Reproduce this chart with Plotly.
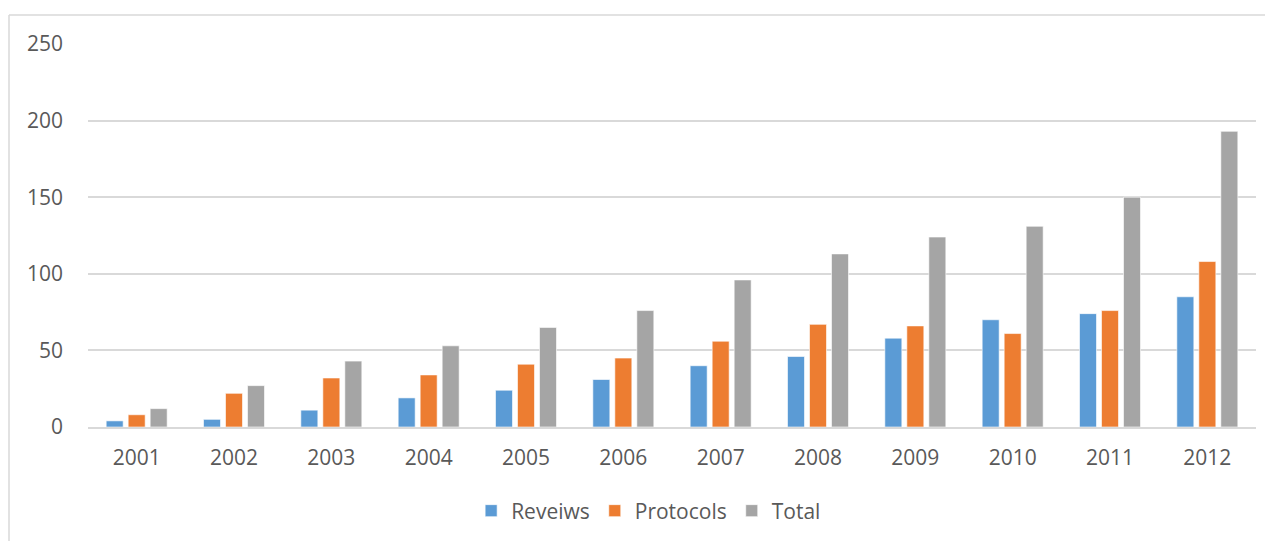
import plotly.graph_objects as go

years = ["2001", "2002", "2003", "2004", "2005", "2006",
         "2007", "2008", "2009", "2010", "2011", "2012"]
reviews = [4, 5, 11, 19, 24, 31, 40, 46, 58, 70, 74, 85]
protocols = [8, 22, 32, 34, 41, 45, 56, 67, 66, 61, 76, 108]
total = [12, 27, 43, 53, 65, 76, 96, 113, 124, 131, 150, 193]

series_names = ["Reveiws", "Protocols", "Total"]
colors = ["#5B9BD5", "#ED7D31", "#A5A5A5"]
font_family = "Open Sans, Lato, sans-serif"
text_color = "#595959"

# page has an 8px body margin, so the figure is offset by (8, 8)
OFF = 8
W, H = 1273 - OFF, 541 - OFF
L, T = 88 - OFF, 44 - OFF
R = W - (1256 - OFF)
B = H - (427 - OFF)

fig = go.Figure()
for name, vals, col in zip(series_names, [reviews, protocols, total], colors):
    fig.add_trace(go.Bar(
        x=years, y=vals, name=name,
        marker=dict(color=col, line=dict(color="rgba(255,255,255,0.6)", width=1)),
    ))

pw = W - L - R
ph = H - T - B
top_y = 15 - OFF
left_x = 9 - OFF
# outer chart border (top and left visible)
fig.add_shape(type="line", xref="paper", yref="paper",
              x0=(left_x - L) / pw, x1=(W + 5 - L) / pw,
              y0=(H - B - top_y) / ph, y1=(H - B - top_y) / ph,
              line=dict(color="#D9D9D9", width=1.5))
fig.add_shape(type="line", xref="paper", yref="paper",
              x0=(left_x - L) / pw, x1=(left_x - L) / pw,
              y0=(H - B - top_y) / ph, y1=(H - B - H - 5) / ph,
              line=dict(color="#D9D9D9", width=1.5))

fig.update_layout(
    width=W, height=H,
    margin=dict(l=L, r=R, t=T, b=B, pad=0, autoexpand=False),
    paper_bgcolor="white", plot_bgcolor="white",
    barmode="group", bargap=0.322, bargroupgap=0.227,
    font=dict(family=font_family, size=21, color=text_color),
    showlegend=True,
    legend=dict(orientation="h", x=0.480, xanchor="center",
                y=(427 - 511) / ph, yanchor="middle",
                font=dict(size=21, color=text_color),
                itemwidth=30, tracegroupgap=0),
    xaxis=dict(showgrid=False, showline=True, linecolor="#D9D9D9", linewidth=1.5,
               ticks="", tickfont=dict(size=21, color=text_color),
               ticklabelstandoff=11),
    yaxis=dict(range=[0, 250], dtick=50, showgrid=True, gridcolor="#D9D9D9",
               gridwidth=1.5, zeroline=False, showline=False, ticks="",
               tickfont=dict(size=21, color=text_color),
               ticklabelstandoff=24),
)

fig.write_html("out.html")
